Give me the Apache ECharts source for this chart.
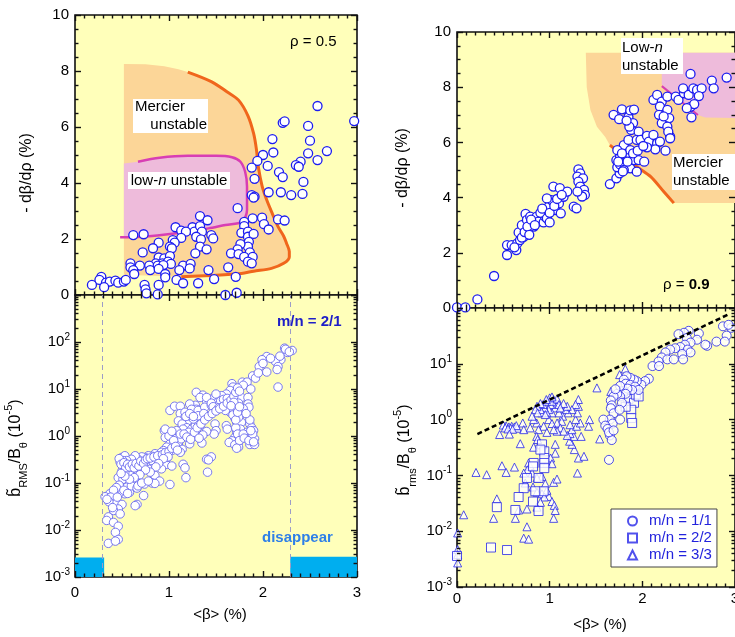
<!DOCTYPE html>
<html>
<head>
<meta charset="utf-8">
<script src="https://cdn.jsdelivr.net/npm/echarts@6/dist/echarts.min.js"></script>
<style>
  html, body { margin: 0; padding: 0; background: #fff; }
  #chart { width: 735px; height: 637px; }
</style>
</head>
<body>
<div id="chart"></div>
<script>
// ---- data: [<beta> (%), value] ----
// rho = 0.5, -dbeta/drho
var rho05Points = [
  [2.58,6.75],[2.21,6.15],[2.23,6.2],[2.97,6.21],[2.48,6.04],[2.10,5.57],[2.50,5.51],[2.11,5.09],[2.00,5.00],
  [2.48,5.06],[2.68,5.14],[1.94,4.79],[2.05,4.61],[2.58,4.82],[2.40,4.76],[2.35,4.64],[2.38,4.58],[1.88,4.55],
  [2.17,4.39],[2.21,4.21],[1.91,4.15],[2.43,4.04],[2.06,3.67],[2.19,3.67],[2.30,3.57],[2.42,3.61],[1.88,3.57],
  [1.91,3.51],[1.90,3.48],[1.73,3.10],[1.33,2.82],[1.41,2.67],[1.89,2.74],[1.99,2.76],[2.16,2.70],[2.23,2.66],
  [1.80,2.61],[1.80,2.46],[2.01,2.53],[1.07,2.42],[1.13,2.30],[1.25,2.42],[1.27,2.26],[1.33,2.46],[1.35,2.26],
  [1.18,2.26],[2.06,2.34],[0.62,2.14],[0.73,2.17],[1.45,2.14],[1.47,2.02],[1.77,2.22],[1.84,2.26],[1.84,2.08],
  [1.90,2.18],[1.13,2.04],[1.29,2.08],[1.34,1.99],[1.04,1.96],[1.06,1.87],[0.89,1.87],[1.85,1.90],[1.84,1.73],
  [1.76,1.82],[0.83,1.67],[1.01,1.73],[1.03,1.67],[1.33,1.73],[1.40,1.63],[1.73,1.63],[0.72,1.52],[1.28,1.49],
  [1.66,1.49],[1.74,1.46],[1.86,1.52],[0.89,1.34],[0.95,1.31],[1.01,1.39],[1.80,1.36],[1.89,1.36],[0.86,1.13],
  [0.93,1.13],[0.99,1.19],[0.59,1.13],[0.69,1.05],[0.79,1.05],[0.88,1.05],[1.02,1.11],[0.94,1.07],[1.15,1.05],
  [1.23,1.11],[1.22,0.95],[1.84,1.19],[1.88,1.13],[0.59,0.99],[0.62,0.89],[1.63,0.99],[1.42,0.89],[0.80,0.89],
  [0.89,0.93],[1.11,0.89],[0.63,0.75],[0.96,0.75],[0.96,0.63],[1.71,0.65],[1.08,0.54],[1.15,0.42],[1.31,0.42],
  [1.48,0.57],[0.28,0.65],[0.26,0.54],[0.33,0.44],[0.37,0.48],[0.18,0.36],[0.31,0.28],[0.43,0.51],[0.46,0.44],
  [0.52,0.48],[0.54,0.54],[0.74,0.36],[0.75,0.20],[0.89,0.36],[0.76,0.06],[0.88,0.02],[1.60,0.0],[1.72,0.08]
];

// rho = 0.9, -dbeta/drho
var rho09Points = [
  [0.0,0.02],[0.09,0.02],[0.22,0.31],[0.40,1.16],[0.54,1.92],[0.54,2.28],[0.59,2.28],[0.64,2.1],[0.65,2.34],
  [0.68,2.46],[0.665,2.74],[0.72,2.58],[0.70,3.0],[0.74,3.41],[0.755,3.19],[0.79,3.31],[0.81,3.07],[0.77,2.89],
  [0.83,2.95],[0.86,3.31],[0.88,3.13],[0.935,3.1],[0.95,3.31],[0.99,3.67],[1.02,3.91],[1.06,3.55],[1.10,3.79],
  [1.12,3.43],[1.15,4.03],[0.97,3.97],[1.04,4.4],[1.11,4.34],[1.19,4.22],[1.26,3.67],[1.29,3.61],[1.31,5.02],
  [1.33,4.88],[1.30,4.76],[1.36,4.70],[1.31,4.58],[1.33,4.40],[1.37,4.28],[1.38,4.10],[1.35,4.04],[1.30,4.22],
  [0.62,2.2],[0.70,2.55],[0.73,2.75],[0.76,2.95],[0.80,3.2],[0.84,3.0],[0.90,3.45],[0.92,3.6],[0.97,3.25],
  [1.0,3.45],[1.05,3.7],[1.08,3.95],[1.13,4.1],[1.0,3.1],[0.78,2.65],
  [1.65,4.49],[1.72,4.70],[1.755,4.88],[1.73,5.10],[1.78,5.24],[1.72,5.36],[1.76,5.48],[1.82,5.54],[1.85,5.42],
  [1.87,5.54],[1.89,5.36],[1.83,5.24],[1.82,5.12],[1.87,5.06],[1.91,5.36],[1.96,5.36],[1.94,4.94],[1.80,5.90],
  [1.85,6.09],[1.87,5.72],[1.73,5.72],[2.02,5.30],[1.76,5.2],[1.80,5.0],[1.84,5.3],[1.78,5.6],[1.90,5.6],
  [1.95,5.7],[1.74,5.3],[1.79,4.95],
  [1.69,7.0],[1.75,6.84],[1.78,7.2],[1.85,6.92],[1.87,7.16],[1.91,7.19],[1.90,6.70],[1.88,6.45],[1.96,6.39],
  [1.86,6.57],[1.83,6.79],[1.94,6.09],[1.98,6.09],[2.05,6.24],[2.07,6.03],[2.12,6.27],[2.16,5.97],[2.14,5.75],
  [2.19,6.03],[2.25,5.70],[2.30,6.21],[2.05,5.82],[2.01,5.87],[2.12,7.54],[2.16,7.72],[2.21,7.48],[2.27,7.66],
  [2.19,7.3],[2.18,7.0],[2.21,6.70],[2.27,7.18],[2.29,6.88],[2.27,6.57],[2.28,6.39],[2.30,6.15],[2.23,6.94],
  [2.36,7.66],[2.39,7.54],[2.45,7.78],[2.44,7.96],[2.50,7.72],[2.55,7.96],[2.59,7.90],[2.64,7.96],[2.61,7.68],
  [2.52,7.29],[2.56,7.39],[2.48,7.24],[2.53,6.91],[2.52,8.48],[2.75,8.24],[2.77,7.96],[2.91,8.35]
];

// m/n = 2/1 fluctuation amplitude (10^-5)
var mode21Points = [
  [2.23,74],[2.31,66],[2.26,60],[2.19,42],[2.13,39],[2.16,30],[2.15,26],[2.04,49],[1.99,42],[1.96,30],[2.04,23],
  [2.16,11],[1.89,19],[1.78,14],[1.83,14],[1.79,12],[1.87,10],[1.67,13],[1.68,11],[1.65,9.3],[1.61,7.8],
  [1.56,7.2],[1.50,6.1],[1.45,6.1],[1.40,5.6],[1.29,8.5],[1.36,7.4],[1.33,6.6],[1.40,6.6],[1.50,7.8],[1.70,6.6],
  [1.72,5.6],[1.77,6.6],[1.84,6.6],[1.84,4.8],[1.85,4.1],[1.74,5.0],[1.79,3.8],[1.77,2.9],[1.70,3.7],[1.65,3.2],
  [1.70,2.4],[1.72,1.95],[1.74,1.6],[1.77,1.95],[1.76,1.4],[1.72,1.2],[1.70,0.93],[1.67,0.79],[1.74,0.73],
  [1.64,0.73],[1.70,0.65],[1.74,0.58],[1.61,1.66],[1.62,1.4],[1.86,1.8],[1.88,1.5],[1.90,1.3],[1.87,1.0],
  [1.91,0.87],[1.88,0.68],[1.86,0.66],[1.91,0.66],[1.49,1.8],[1.50,1.3],[1.48,1.1],[1.35,0.71],[1.40,0.32],
  [1.45,0.36],[1.42,0.31],[1.41,0.17],[1.22,0.68],[1.28,4.5],[1.29,3.7],[1.26,3.2],[1.01,3.5],[1.06,4.3],
  [1.12,4.3],[1.12,3.0],[1.17,2.5],[1.20,2.1],[1.10,2.1],[1.14,1.8],[1.19,1.5],[1.24,1.4],[1.28,1.66],[1.31,1.95],
  [1.35,2.3],[1.33,1.66],[1.15,1.4],[1.21,1.2],[1.26,1.0],[1.29,1.2],[1.08,1.3],[0.95,1.3],[0.96,0.93],[1.06,0.87],
  [1.01,0.68],[1.04,0.63],[0.975,0.58],[0.94,0.49],[0.90,0.42],[1.10,0.68],[1.14,0.52],[1.12,0.45],[1.06,0.52],
  [0.85,0.42],[0.82,0.37],[0.78,0.38],[0.745,0.35],[0.71,0.36],[0.67,0.32],[0.64,0.30],[0.60,0.28],[0.57,0.30],
  [0.53,0.32],[0.50,0.35],[0.87,0.30],[0.92,0.28],[0.97,0.25],[1.03,0.23],[0.83,0.23],[0.78,0.20],[0.71,0.18],
  [0.66,0.17],[0.60,0.18],[0.57,0.20],[0.55,0.23],[0.85,0.145],[0.90,0.11],[0.82,0.10],[0.74,0.095],[1.01,0.093],
  [0.85,0.098],[1.15,0.25],[1.17,0.21],[1.18,0.13],[0.66,0.145],[0.59,0.145],[0.62,0.11],[0.57,0.10],[0.65,0.095],
  [0.67,0.095],[0.51,0.23],[0.48,0.28],[0.50,0.18],[0.46,0.13],[0.51,0.12],[0.53,0.17],[0.73,0.054],[0.66,0.035],
  [0.64,0.033],[0.58,0.063],[0.53,0.059],[0.48,0.063],[0.43,0.054],[0.37,0.059],[0.32,0.051],[0.39,0.042],
  [0.44,0.038],[0.50,0.035],[0.46,0.028],[0.41,0.026],[0.48,0.022],[0.355,0.019],[0.337,0.016],[0.41,0.0145],
  [0.46,0.012],[0.43,0.0089],[0.46,0.0063],[0.355,0.0052],[0.43,0.0058],[0.55,0.081],[0.60,0.087],[0.66,0.078],
  [0.67,0.087],[0.71,0.10],[0.78,0.11],[0.64,0.38],[0.60,0.32],[0.92,0.45],[1.03,0.49],[1.06,0.58],[1.10,0.74],
  [1.13,0.87],[0.92,0.32],[0.98,0.35],[0.92,0.20],[0.76,0.28],[0.71,0.24],[0.82,0.30],[0.53,0.38],[0.55,0.30],
  [0.51,0.30],[0.96,1.4],[1.22,4.8],[1.24,3.7],[1.31,3.5],[1.38,4.1],[1.45,4.5],[1.17,3.2],[1.21,2.7],[1.26,2.3],
  [1.31,2.7],[1.37,3.0],[1.56,4.5],[1.63,4.5],[1.60,3.5],[1.68,2.8],[1.74,2.5],[1.77,1.0],[1.83,1.2],[1.52,5.2],
  [1.55,5.6],[1.58,6.0],[1.62,6.3],[1.45,5.0],[1.47,4.2],[1.53,4.0],[1.0,1.0],[1.03,1.26],[1.12,1.1],[1.05,0.8],
  [0.47,0.33],[0.49,0.25],[0.52,0.27],[0.54,0.21],[0.56,0.25],[0.58,0.22],[0.61,0.25],[0.63,0.21],[0.65,0.26],
  [0.68,0.23],[0.70,0.29],[0.73,0.26],[0.75,0.31],[0.77,0.33],[0.80,0.34],[0.84,0.36],[0.88,0.38],[0.93,0.40],
  [0.96,0.44],[1.0,0.47],[1.03,0.55],[1.07,0.6],[1.09,0.5],[0.99,0.36],[0.94,0.33],[0.89,0.26],[0.86,0.22],
  [0.80,0.17],[0.75,0.19],[0.69,0.15],[0.63,0.13],[0.58,0.12],[0.53,0.14],[0.49,0.16],[0.47,0.09],[0.44,0.08],
  [0.41,0.07],[0.38,0.05],[0.36,0.04],[0.34,0.045],[0.40,0.03],[0.45,0.05],[0.52,0.07],[0.56,0.06],
  [1.16,1.1],[1.19,0.95],[1.23,0.85],[1.27,1.2],[1.30,1.5],[1.34,1.8],[1.38,2.2],[1.42,2.6],[1.46,3.0],[1.50,3.4],
  [1.54,3.8],[1.58,4.3],[1.62,5.0],[1.66,5.8],[1.69,7.0],[1.71,8.5],[1.73,10.5],[1.75,9],[1.69,5.2],[1.66,4.4],
  [1.40,1.25],[1.36,1.05],[1.32,0.9],[1.18,2.6],[1.22,3.0],[1.26,2.6],
  [1.71,1.5],[1.73,1.1],[1.75,0.8],[1.72,0.55],[1.79,1.1],[1.80,0.9],[1.85,0.8],[1.89,1.1],[1.87,1.3],[1.90,0.75],
  [1.71,2.2],[1.73,3.2],[1.75,4.2],[1.86,2.2],[1.82,3.0],
  [1.92,17],[1.95,22],[2.0,35],[2.08,45],[2.18,50],[2.24,70],[2.28,62]
];

// rho = 0.9 fluctuation amplitudes (10^-5)
var mode11Points = [
  [2.87,47],[2.96,44],[2.91,32],[2.80,25],[2.89,25],[2.70,21],[2.68,22],[2.61,35],[2.59,27],[2.50,39],[2.45,36],
  [2.39,34],[2.48,29],[2.52,24],[2.46,22],[2.41,20],[2.355,19],[2.49,18],[2.52,16],[2.43,15],[2.30,18],[2.25,16],
  [2.21,13],[2.27,12],[2.34,12],[2.44,12],[2.175,11],[2.11,9.1],[2.18,9.1],[2.07,5.4],[2.03,4.9],[1.99,4.2],
  [1.94,4.9],[1.91,5.2],[1.87,5.6],[1.83,6.0],[1.80,5.2],[1.82,4.4],[1.87,4.2],[1.92,3.9],[1.96,3.4],[1.89,3.4],
  [1.84,3.6],[1.82,2.9],[1.76,2.6],[1.73,2.9],[1.69,2.6],[1.66,2.2],[1.67,1.8],[1.66,1.6],[1.69,1.3],[1.65,1.0],
  [1.68,0.85],[1.58,1.0],[1.60,0.78],[1.625,0.68],[1.65,0.52],[1.67,0.43],[1.64,0.59],[1.69,0.64],[1.76,1.0],
  [1.64,0.19],[1.76,4.0],[1.71,3.5],[1.78,2.0],[1.755,1.5],[2.93,50]
];
var mode22Points = [
  [1.85,2.35],[1.91,2.0],[1.93,2.8],[1.88,1.5],[1.88,1.07],[1.89,0.87],[1.82,1.7],[1.96,2.6],[1.79,3.2],
  [0.917,0.36],[0.942,0.27],[0.942,0.205],[0.942,0.167],[0.942,0.135],[0.90,0.29],[0.827,0.167],[0.82,0.145],
  [0.755,0.090],[0.88,0.090],[0.935,0.052],[0.72,0.059],[0.665,0.041],[0.82,0.034],[0.88,0.023],[0.63,0.024],
  [0.43,0.027],[0.367,0.0051],[0.54,0.0046],[0.845,0.052],[0.0,0.0036]
];
var mode33Points = [
  [0.50,0.80],[0.53,0.77],[0.56,0.74],[0.59,0.76],[0.62,0.74],[0.65,0.70],[0.52,0.71],[0.58,0.70],[0.64,0.78],
  [0.55,0.68],[0.60,0.67],[0.46,0.54],[0.565,0.55],[0.71,0.87],[0.72,0.66],[0.79,0.71],[0.86,0.87],[0.935,0.76],
  [0.88,0.66],[0.86,0.50],[0.87,0.44],[0.683,0.37],[0.827,0.32],[0.97,0.59],[1.06,0.36],[1.06,0.25],[1.01,0.205],
  [0.97,0.167],[1.025,0.162],[0.773,0.167],[0.79,0.145],[0.76,0.126],[0.81,0.110],[0.485,0.149],[0.62,0.141],
  [0.53,0.113],[0.205,0.113],[0.32,0.103],[0.72,0.110],[0.737,0.073],[0.82,0.062],[0.863,0.050],[0.917,0.047],
  [0.99,0.042],[1.025,0.034],[1.05,0.029],[1.06,0.0235],[1.043,0.017],[0.97,0.054],[0.942,0.041],[0.90,0.033],
  [0.863,0.027],[0.755,0.025],[0.953,0.071],[1.043,0.075],[1.079,0.086],[0.917,0.096],[0.863,0.090],[0.43,0.038],
  [0.395,0.017],[0.63,0.017],[0.665,0.024],[0.755,0.012],[0.72,0.0075],[0.773,0.0072],[0.072,0.0197],
  [0.007,0.0093],[0.007,0.0047],[0.007,0.0038],[0.007,0.0027],
  [1.31,0.205],[1.37,0.22],[1.30,0.11],[1.266,0.29],[1.24,0.36],[1.215,0.41],[1.34,0.50],[1.43,1.0],[1.42,0.76],
  [1.54,0.45],[1.51,3.7],[1.66,3.2],[1.755,6.4],[1.816,8.1],
  [1.26,0.50],[1.22,0.56],[1.19,0.52],[1.24,0.66],[1.29,0.76],[1.33,0.87],[1.28,1.0],[1.30,1.32],[1.31,1.73],
  [1.31,2.29],[1.28,1.86],[1.24,1.51],[1.20,1.32],[1.17,1.51],[1.19,1.73],[1.14,1.15],[1.13,0.93],[1.08,0.87],
  [1.10,1.32],[1.06,1.62],[1.025,1.32],[1.07,1.99],[1.04,2.29],[1.01,1.86],[0.99,1.51],[0.97,1.32],[0.942,1.62],
  [0.917,1.32],[0.90,1.51],[0.93,1.86],[0.97,2.13],[1.025,2.13],[1.08,2.35],[1.10,1.86],[1.15,1.94],[1.115,1.62],
  [0.99,1.0],[1.025,0.85],[1.115,0.71],[1.15,0.62],[1.08,0.62],[1.043,0.66],[1.22,0.81],[1.0,2.45],[1.025,2.55],
  [0.964,2.29],[0.90,1.94],[0.863,1.73],[0.845,1.51],[0.87,1.32],[0.827,1.0],[0.81,1.15],[0.953,1.23]
];

// stability boundaries
var mercierFill05 = [
  [0.52,8.25],[0.75,8.24],[0.95,8.17],[1.10,8.06],[1.20,7.96],[1.45,7.62],[1.62,7.25],[1.74,6.96],[1.84,6.4],
  [1.90,5.77],[1.93,5.2],[1.95,4.58],[1.99,3.9],[2.04,3.39],[2.10,2.9],[2.16,2.44],[2.22,2.1],[2.25,1.85],
  [2.28,1.55],[2.28,1.36],[2.22,1.13],[2.09,0.95],[1.90,0.85],[1.77,0.77],[1.45,0.70],[1.13,0.65],[0.52,0.72]
];
var mercierLine05 = [
  [1.20,7.96],[1.45,7.62],[1.62,7.25],[1.74,6.96],[1.84,6.4],[1.90,5.77],[1.93,5.2],[1.95,4.58],[1.99,3.9],
  [2.04,3.39],[2.10,2.9],[2.16,2.44],[2.22,2.1],[2.25,1.85],[2.28,1.55],[2.28,1.36],[2.22,1.13],[2.09,0.95],
  [1.90,0.85],[1.77,0.77],[1.45,0.70],[1.13,0.65]
];
var lowNLine05 = [
  [0.67,4.76],[0.9,4.9],[1.2,4.97],[1.5,4.97],[1.67,4.92],[1.76,4.76],[1.81,4.4],[1.83,3.87],[1.83,3.04],
  [1.81,2.75],[1.78,2.6],[1.6,2.5],[1.42,2.38],[1.06,2.2],[0.71,2.08],[0.48,2.06]
];
var lowNFill05 = [
  [0.52,4.70],[0.67,4.76],[0.9,4.9],[1.2,4.97],[1.5,4.97],[1.67,4.92],[1.76,4.76],[1.81,4.4],[1.83,3.87],
  [1.83,3.04],[1.81,2.75],[1.78,2.6],[1.6,2.5],[1.42,2.38],[1.06,2.2],[0.71,2.08],[0.52,2.07]
];
var mercierFill09 = [
  [1.39,9.25],[3.0,9.25],[3.0,3.80],[2.34,3.80],[2.23,4.22],[2.09,4.76],[1.94,5.12],[1.80,5.5],[1.65,5.90],
  [1.60,6.2],[1.51,6.57],[1.44,7.17],[1.40,8.0]
];
var mercierLine09 = [[1.65,5.90],[1.80,5.5],[1.94,5.12],[2.09,4.76],[2.23,4.22],[2.34,3.80]];
var lowNFill09 = [[2.21,9.25],[3.0,9.25],[3.0,6.88],[2.68,6.90],[2.55,7.05],[2.21,8.10]];
var lowNLine09 = [[2.21,8.04],[2.60,6.99]];

var modeLimits = [0.29, 2.29];               // dashed lines where 2/1 appears / disappears
var disappearBands = [[0, 0.31, 0.0026], [2.29, 3, 0.0027]];
var dashedGuide = [[0.22, 0.55], [2.93, 77]];

// tick positions
var betaTicks = [0, 1, 2, 3];
var gradTicks = [0, 2, 4, 6, 8, 10];
var ampTicksLeft = [0.001, 0.01, 0.1, 1, 10, 100, 1000];
var ampTicksRight = [0.001, 0.01, 0.1, 1, 10, 100];
function minorBetween(major, parts) {
  var out = [];
  for (var i = 0; i < major.length - 1; i++) {
    var step = (major[i + 1] - major[i]) / parts;
    for (var k = 1; k < parts; k++) out.push(major[i] + k * step);
  }
  return out;
}
function minorLog(major) {
  var out = [];
  for (var i = 0; i < major.length - 1; i++) {
    for (var k = 2; k <= 9; k++) out.push(major[i] * k);
  }
  return out;
}
var betaMinor = minorBetween(betaTicks, 10);
var gradMinor = minorBetween(gradTicks, 4);

var FONT = "'Liberation Sans', Arial, Helvetica, sans-serif";
var BG = '#FFFFBA';

function gridRect(rect) {
  return {
    left: rect[0], top: rect[1], width: rect[2], height: rect[3],
    show: true, backgroundColor: BG, borderColor: '#111', borderWidth: 1.6,
    containLabel: false, outerBoundsMode: 'none'
  };
}
function xAxisDef(gi, labels, margin) {
  return {
    type: 'value', gridIndex: gi, min: 0, max: 3, interval: 1,
    axisLine: { show: false }, axisTick: { show: false },
    axisLabel: { show: labels, color: '#000', fontSize: 15, fontFamily: FONT, margin: margin || 7 },
    splitLine: { show: false }
  };
}
function linYDef(gi) {
  return {
    type: 'value', gridIndex: gi, min: 0, max: 10, interval: 2,
    axisLine: { show: false }, axisTick: { show: false },
    axisLabel: { color: '#000', fontSize: 15, fontFamily: FONT, margin: 6 },
    splitLine: { show: false }
  };
}
function logYDef(gi, maxExp) {
  return {
    type: 'log', logBase: 10, gridIndex: gi,
    min: 0.001, max: Math.pow(10, maxExp), splitNumber: maxExp + 3,
    axisLine: { show: false }, axisTick: { show: false },
    axisLabel: {
      margin: 5,
      formatter: function (v) {
        var e = Math.round(Math.log10(v));
        if (e >= maxExp) return '';
        return '{b|10}{s|' + e + '}';
      },
      rich: {
        b: { fontSize: 15, fontFamily: FONT, color: '#000', lineHeight: 20 },
        s: { fontSize: 10, fontFamily: FONT, color: '#000', lineHeight: 10, verticalAlign: 'top' }
      }
    },
    splitLine: { show: false }
  };
}

// inward frame ticks drawn as markLine segments on a carrier series.
// len: [x major, x minor, y major, y minor] in axis units (log axes: multiplicative factor)
function tickSeries(idx, xMajor, xMinor, yMajor, yMinor, isLog, len) {
  var x0 = xMajor[0], x1 = xMajor[xMajor.length - 1];
  var y0 = yMajor[0], y1 = yMajor[yMajor.length - 1];
  function up(v, d) { return isLog ? v * d : v + d; }
  function down(v, d) { return isLog ? v / d : v - d; }
  var segs = [];
  function xt(vals, d) {
    vals.forEach(function (v) {
      segs.push([{ coord: [v, y0] }, { coord: [v, up(y0, d)] }]);
      segs.push([{ coord: [v, y1] }, { coord: [v, down(y1, d)] }]);
    });
  }
  function yt(vals, d) {
    vals.forEach(function (v) {
      segs.push([{ coord: [x0, v] }, { coord: [x0 + d, v] }]);
      segs.push([{ coord: [x1, v] }, { coord: [x1 - d, v] }]);
    });
  }
  xt(xMajor, len[2]); xt(xMinor, len[3]);
  yt(yMajor, len[0]); yt(yMinor, len[1]);
  return {
    type: 'scatter', xAxisIndex: idx, yAxisIndex: idx, silent: true, z: 6,
    data: [[x0, y0]], symbolSize: 0,
    markLine: {
      silent: true, symbol: ['none', 'none'], label: { show: false }, animation: false,
      lineStyle: { type: 'solid', color: '#111', width: 1.4 },
      emphasis: { disabled: true },
      data: segs
    }
  };
}

function areaSeries(points, color, idx) {
  return {
    type: 'custom', xAxisIndex: idx, yAxisIndex: idx, silent: true, z: 1,
    data: [points[0]],
    renderItem: function (params, api) {
      return {
        type: 'polygon',
        shape: { points: points.map(function (p) { return api.coord(p); }) },
        style: { fill: color }
      };
    }
  };
}
function curveSeries(points, color, width, idx) {
  return {
    type: 'line', xAxisIndex: idx, yAxisIndex: idx, data: points, smooth: 0.3,
    symbol: 'none', silent: true, z: 2,
    lineStyle: { color: color, width: width }
  };
}
function dots(points, idx, size, border, width) {
  return {
    type: 'scatter', xAxisIndex: idx, yAxisIndex: idx, data: points, z: 3,
    symbol: 'circle', symbolSize: size,
    itemStyle: { color: '#fff', borderColor: border, borderWidth: width, opacity: 1 }
  };
}

var chart = echarts.init(document.getElementById('chart'), null, { renderer: 'canvas' });

var series = [
  areaSeries(mercierFill05, '#FCD698', 0),
  areaSeries(lowNFill05, '#EEBBDB', 0),
  curveSeries(mercierLine05, '#F0661C', 3, 0),
  curveSeries(lowNLine05, '#D83EB4', 2.5, 0),
  dots(rho05Points, 0, 9, '#1c1cf0', 1.3),
  tickSeries(0, betaTicks, betaMinor, gradTicks, gradMinor, false, [0.064, 0.037, 0.214, 0.125]),

  Object.assign(dots(mode21Points, 1, 8.5, '#6a6aee', 0.9), {
    markLine: {
      silent: true, symbol: 'none', label: { show: false },
      lineStyle: { type: [5, 4], color: '#9c9cc8', width: 1 },
      data: modeLimits.map(function (x) { return { xAxis: x }; })
    },
    markArea: {
      silent: true, itemStyle: { color: '#00AEEF' },
      data: disappearBands.map(function (b) { return [{ coord: [b[0], 0.001] }, { coord: [b[1], b[2]] }]; })
    }
  }),
  tickSeries(1, betaTicks, betaMinor, ampTicksLeft, minorLog(ampTicksLeft), true, [0.064, 0.037, 1.342, 1.187]),

  areaSeries(mercierFill09, '#FCD698', 2),
  areaSeries(lowNFill09, '#EEBBDB', 2),
  curveSeries(mercierLine09, '#F0661C', 3, 2),
  curveSeries(lowNLine09, '#D83EB4', 2, 2),
  dots(rho09Points, 2, 9, '#1c1cf0', 1.3),
  tickSeries(2, betaTicks, betaMinor, gradTicks, gradMinor, false, [0.065, 0.038, 0.217, 0.127]),

  {
    type: 'line', xAxisIndex: 3, yAxisIndex: 3, data: dashedGuide, symbol: 'none', silent: true, z: 4,
    lineStyle: { color: '#000', width: 2.6, type: [5, 3] }
  },
  {
    name: 'm/n = 3/3', type: 'scatter', xAxisIndex: 3, yAxisIndex: 3, data: mode33Points, z: 3,
    symbol: 'triangle', symbolSize: 8,
    itemStyle: { color: '#fff', borderColor: '#2626e8', borderWidth: 1 }
  },
  {
    name: 'm/n = 2/2', type: 'scatter', xAxisIndex: 3, yAxisIndex: 3, data: mode22Points, z: 3,
    symbol: 'rect', symbolSize: 9,
    itemStyle: { color: '#fff', borderColor: '#2626e8', borderWidth: 1 }
  },
  {
    name: 'm/n = 1/1', type: 'scatter', xAxisIndex: 3, yAxisIndex: 3, data: mode11Points, z: 3,
    symbol: 'circle', symbolSize: 9,
    itemStyle: { color: '#fff', borderColor: '#2626e8', borderWidth: 1 }
  },
  tickSeries(3, betaTicks, betaMinor, ampTicksRight, minorLog(ampTicksRight), true, [0.065, 0.038, 1.281, 1.155])
];

var titleRich = {
  n: { fontSize: 16, fontFamily: FONT, color: '#000', lineHeight: 26 },
  sub: { fontSize: 11, fontFamily: FONT, color: '#000', lineHeight: 11, verticalAlign: 'bottom' },
  sup: { fontSize: 11, fontFamily: FONT, color: '#000', lineHeight: 11, verticalAlign: 'top' }
};

function label(x, y, text, extra) {
  var st = { text: text, fontSize: 15, fontFamily: FONT, fill: '#000', align: 'left', verticalAlign: 'middle' };
  for (var k in extra) st[k] = extra[k];
  return { type: 'text', x: x, y: y, z: 100, silent: true, style: st };
}
function box(x, y, w, h) {
  return { type: 'rect', z: 99, silent: true, shape: { x: x, y: y, width: w, height: h }, style: { fill: '#fff' } };
}
var italicRich = {
  a: { fontSize: 15, fontFamily: FONT, color: '#000' },
  i: { fontSize: 15, fontFamily: FONT, color: '#000', fontStyle: 'italic' }
};

var option = {
  animation: false,
  backgroundColor: '#fff',
  grid: [
    gridRect([75, 15, 282, 280]),
    gridRect([75, 295, 282, 282]),
    gridRect([457, 32, 278, 276]),
    gridRect([457, 308, 278, 279])
  ],
  xAxis: [xAxisDef(0, false), xAxisDef(1, true, 8), xAxisDef(2, false), xAxisDef(3, true, 4)],
  yAxis: [linYDef(0), logYDef(1, 3), linYDef(2), logYDef(3, 2)],
  legend: {
    data: ['m/n = 1/1', 'm/n = 2/2', 'm/n = 3/3'],
    orient: 'vertical', left: 611, top: 509,
    padding: [4, 5, 4, 16], itemGap: 1, itemWidth: 9, itemHeight: 9,
    backgroundColor: '#fff', borderColor: '#444', borderWidth: 1,
    selectedMode: false,
    textStyle: { color: '#2222dd', fontSize: 15, fontFamily: FONT, lineHeight: 16, padding: [0, 0, 0, 7] }
  },
  graphic: [
    // axis titles
    { type: 'text', x: 27, y: 173, rotation: Math.PI / 2, z: 100, silent: true,
      style: { text: '- dβ/dρ (%)', fontSize: 16, fontFamily: FONT, fill: '#000', align: 'center', verticalAlign: 'middle' } },
    { type: 'text', x: 16, y: 448, rotation: Math.PI / 2, z: 100, silent: true,
      style: { text: '{n|b\u0303}{sub|RMS}{n|/B}{sub|θ}{n| (10}{sup|-5}{n|)}', rich: titleRich,
        align: 'center', verticalAlign: 'middle' } },
    { type: 'text', x: 403, y: 168, rotation: Math.PI / 2, z: 100, silent: true,
      style: { text: '- dβ/dρ (%)', fontSize: 16, fontFamily: FONT, fill: '#000', align: 'center', verticalAlign: 'middle' } },
    { type: 'text', x: 405, y: 450, rotation: Math.PI / 2, z: 100, silent: true,
      style: { text: '{n|b\u0303}{sub|rms}{n|/B}{sub|θ}{n| (10}{sup|-5}{n|)}', rich: titleRich,
        align: 'center', verticalAlign: 'middle' } },
    label(220, 615, '<β> (%)', { align: 'center' }),
    label(600, 625, '<β> (%)', { align: 'center' }),

    // panel annotations
    label(290, 42, 'ρ = 0.5'),
    label(663, 285, '{a|ρ = }{b|0.9}', { rich: {
      a: { fontSize: 15, fontFamily: FONT, color: '#000' },
      b: { fontSize: 15, fontFamily: FONT, color: '#000', fontWeight: 'bold' } } }),
    label(277, 322, 'm/n = 2/1', { fill: '#1e1ec8', fontWeight: 'bold' }),
    label(262, 538, 'disappear', { fill: '#2e7fe8', fontWeight: 'bold' }),

    box(133, 99, 75, 34),
    label(135, 107, 'Mercier'),
    label(207, 125, 'unstable', { align: 'right' }),
    box(128, 172, 102, 17),
    label(179, 181, '{a|low-}{i|n}{a| unstable}', { align: 'center', rich: italicRich }),

    box(621, 38, 62, 36),
    label(622, 48, '{a|Low-}{i|n}', { rich: italicRich }),
    label(622, 66, 'unstable'),
    box(672, 154, 63, 36),
    label(673, 163, 'Mercier'),
    label(673, 181, 'unstable')
  ],
  series: series
};

chart.setOption(option);
</script>
</body>
</html>
